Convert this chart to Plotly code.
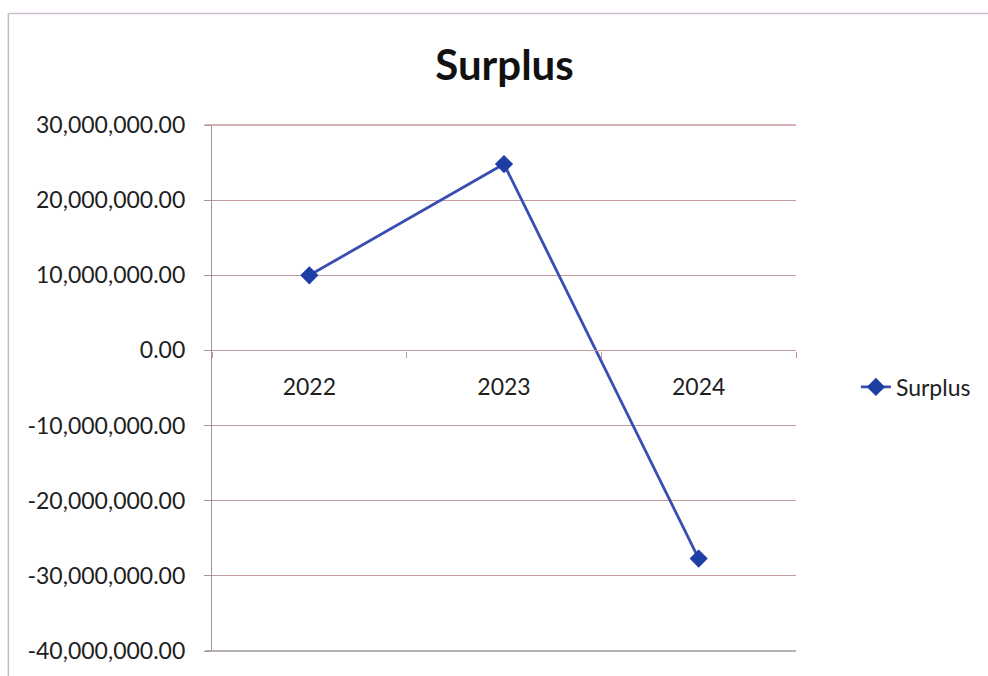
import plotly.graph_objects as go

# Annual surplus figures
years = ["2022", "2023", "2024"]
surplus = [10_000_000, 24_800_000, -27_700_000]

# Value axis ticks
y_ticks = [30_000_000, 20_000_000, 10_000_000, 0, -10_000_000,
           -20_000_000, -30_000_000, -40_000_000]
y_tick_text = [f"{v:,.2f}" for v in y_ticks]

FONT = "Lato, 'Open Sans', sans-serif"
GRID = "#c79a9c"
AXIS = "#a29696"
TEXT = "#1e1e1e"

fig = go.Figure()
fig.add_trace(go.Scatter(
    x=years, y=surplus, name="Surplus", mode="lines+markers",
    line=dict(color="#3a4db3", width=2.8),
    marker=dict(symbol="diamond", size=14, color="#1d3fa3",
                line=dict(width=0)),
))

y_min, y_max = -40_000_000, 30_000_000
zero_pos = (0 - y_min) / (y_max - y_min)

shapes = [
    # outer chart border (top and left edges)
    dict(type="line", xref="paper", yref="paper",
         x0=(8 - 212) / 585, x1=(1000 - 212) / 585,
         y0=(653 - 13) / 528, y1=(653 - 13) / 528,
         line=dict(color="#cbbccd", width=1.5)),
    dict(type="line", xref="paper", yref="paper",
         x0=(8 - 212) / 585, x1=(8 - 212) / 585,
         y0=(653 - 13) / 528, y1=(653 - 700) / 528,
         line=dict(color="#c9bcbc", width=1.5)),
]
# gridlines at the top and bottom of the value range, with outside ticks
for yp, col in ((0, AXIS), (1, GRID)):
    shapes.append(dict(type="line", xref="paper", yref="paper",
                       x0=-7 / 585, x1=1, y0=yp, y1=yp,
                       line=dict(color=col, width=1.3)))

fig.update_layout(
    width=988, height=676,
    margin=dict(l=212, r=191, t=125, b=23),
    paper_bgcolor="white", plot_bgcolor="white",
    title=dict(text="<b>Surplus</b>", x=(212 + 797) / 2 / 988, xanchor="center",
               y=1 - 65 / 676, yanchor="middle",
               font=dict(family=FONT, size=42, color="#111111")),
    font=dict(family=FONT, size=23, color=TEXT),
    showlegend=True,
    legend=dict(x=(857 - 212) / 585, xanchor="left", y=(653 - 388) / 528,
                yanchor="middle", bgcolor="rgba(0,0,0,0)",
                font=dict(family=FONT, size=23, color=TEXT)),
    xaxis=dict(
        type="category", range=[-0.5, 2.5],
        anchor="free", position=zero_pos,
        showline=True, linecolor=GRID, linewidth=1.2,
        showgrid=False, zeroline=False,
        ticks="outside", tickson="boundaries", ticklen=6, tickcolor=GRID,
        ticklabelstandoff=16,
        tickfont=dict(family=FONT, size=23, color=TEXT),
    ),
    yaxis=dict(
        range=[y_min, y_max], domain=[0, 1],
        tickvals=y_ticks, ticktext=y_tick_text,
        showline=True, linecolor=AXIS, linewidth=1.2,
        showgrid=True, gridcolor=GRID, gridwidth=1.2,
        zeroline=True, zerolinecolor=GRID, zerolinewidth=1.2,
        ticks="outside", ticklen=7, tickcolor=AXIS,
        ticklabelstandoff=14,
        tickfont=dict(family=FONT, size=23, color=TEXT),
    ),
    shapes=shapes,
)

fig.write_html("out.html")
